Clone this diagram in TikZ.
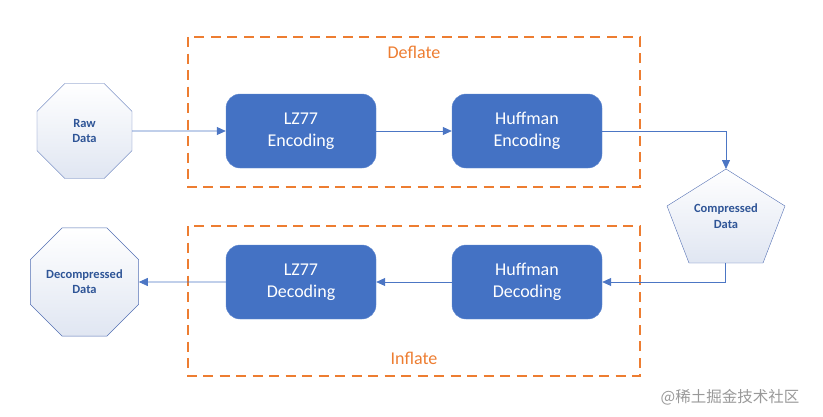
\documentclass[tikz,border=0pt]{standalone}
\usepackage{fontspec}
\setmainfont{Carlito}
\newfontfamily\cjkfont{Noto Sans CJK SC}
\usetikzlibrary{shapes.geometric,arrows.meta}

\definecolor{boxblue}{RGB}{68,114,196}
\definecolor{boxedge}{RGB}{98,138,208}
\definecolor{linkblue}{RGB}{76,118,196}
\definecolor{dataink}{RGB}{47,85,151}
\definecolor{dataedge}{RGB}{84,112,180}
\definecolor{paleblue}{RGB}{224,230,242}
\definecolor{stageorange}{RGB}{237,125,49}

\tikzstyle{stage} = [draw=stageorange, line width=1.6pt, dash pattern=on 10pt off 6.5pt]
\tikzstyle{stagelabel} = [text=stageorange, font=\fontsize{18}{22}\selectfont]
\tikzstyle{coder} = [rectangle, rounded corners=14pt, draw=boxedge, fill=boxblue, text=white, minimum width=150pt, minimum height=74pt, align=center, font=\fontsize{18}{22}\selectfont]
\tikzstyle{octa} = [regular polygon, regular polygon sides=8, minimum size=102.8pt, inner sep=0pt, draw=dataedge, top color=white, bottom color=paleblue, text=dataink, align=center, font=\bfseries\fontsize{12.5}{15}\selectfont]
\tikzstyle{datalabel} = [text=dataink, align=center, font=\bfseries\fontsize{12.5}{15.5}\selectfont]
\tikzstyle{link} = [draw=linkblue, line width=0.8pt, -{Triangle[width=8pt,length=9pt]}]

\begin{document}
\begin{tikzpicture}[x=1pt,y=-1pt]
	\useasboundingbox (0,0) rectangle (823,416);

	\draw[stage] (188,37) rectangle (640,187);
	\draw[stage] (188,226) rectangle (640,376);
	\node[stagelabel] (deflate) at (414,52) {Deflate};
	\node[stagelabel] (inflate) at (414,358) {Inflate};

	\node[octa] (raw) at (84.5,131) {Raw\\Data};
	\node[coder] (enc1) at (301,131) {LZ77\\Encoding};
	\node[coder] (enc2) at (527,131) {Huffman\\Encoding};

	\draw[draw=dataedge, top color=white, bottom color=paleblue] (726,169) -- (785,206) -- (763,263) -- (689,263) -- (667,206) -- cycle;
	\coordinate (ctop) at (726,169);
	\coordinate (cbot) at (725,263);
	\node[datalabel] (comp) at (726,216) {Compressed\\Data};

	\node[coder] (dec2) at (527,282) {Huffman\\Decoding};
	\node[coder] (dec1) at (301,282) {LZ77\\Decoding};
	\node[octa] (out) at (84.5,282) {Decompressed\\Data};

	\draw[link] (raw.east) -- (enc1.west);
	\draw[link] (enc1.east) -- (enc2.west);
	\draw[link] (enc2.east) -| (ctop);
	\draw[link] (cbot) |- (dec2.east);
	\draw[link] (dec2.west) -- (dec1.east);
	\draw[link] (dec1.west) -- (out.east);

	\node[text=black!40, font=\cjkfont\fontsize{15.5}{16}\selectfont] (mark) at (730,397) {@稀土掘金技术社区};
\end{tikzpicture}
\end{document}
